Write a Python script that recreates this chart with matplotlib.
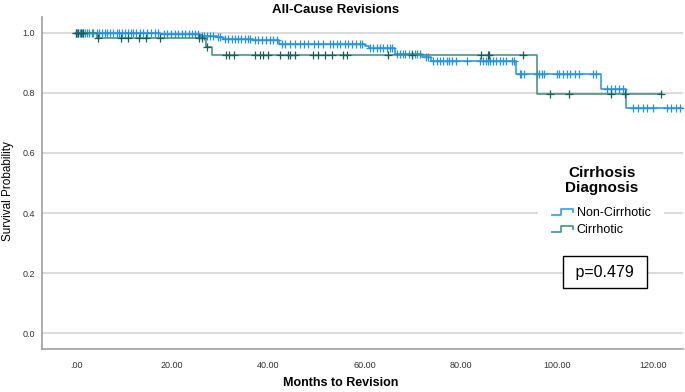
import matplotlib
matplotlib.use("Agg")
import matplotlib.pyplot as plt
from matplotlib.legend_handler import HandlerBase
from matplotlib.lines import Line2D

plt.rcParams['font.family'] = ['Liberation Sans', 'DejaVu Sans']

# ---------------- Data ---------------- #
# Non-Cirrhotic: event times (months) and survival after each step
nc_times = [0, 17.5, 25.8, 29.3, 30.5, 36.8, 42.2, 60.1, 61.0, 66.3, 72.0, 73.9, 91.5, 109.1, 114.3]
nc_surv = [1.0, 0.996, 0.99, 0.987, 0.981, 0.976, 0.963, 0.955, 0.949, 0.93, 0.921, 0.906, 0.862, 0.812, 0.749]
nc_end = 125.9
nc_censored = [
    0.0, 0.14, 0.48, 0.83, 1.18, 1.52, 1.87, 2.22, 2.77, 3.26, 3.6, 4.3, 4.85, 5.34, 6.03,
    6.51, 7.07, 7.76, 8.45, 9.0, 9.5, 10.2, 10.9, 11.4, 11.9, 12.5, 13.3, 14.0, 14.8, 15.5,
    16.4, 17.1, 18.2, 18.9, 19.7, 20.6, 21.3, 22.0, 22.7, 23.4, 24.1, 24.8, 25.4,
    26.1, 26.6, 27.3, 27.9, 28.5, 29.6, 29.9, 31.0, 31.7, 32.4, 33.1, 33.7, 34.4, 35.1,
    35.8, 36.2, 37.2, 37.9, 38.6, 39.6, 40.3, 41.0, 41.7, 42.8, 43.5, 44.5, 45.5, 46.6,
    47.3, 48.3, 49.4, 50.4, 51.4, 52.8, 53.5, 54.2, 54.9, 55.9, 56.6, 57.3, 58.3, 59.0,
    59.4, 61.1, 61.8, 62.5, 63.2, 63.9, 64.6, 65.2, 65.8, 66.7, 67.3, 67.9, 68.5, 69.2,
    69.9, 70.4, 71.0, 71.6, 72.7, 73.2, 74.3, 75.0, 75.7, 76.4, 77.1, 77.6, 78.1, 79.1,
    81.2, 84.0, 84.6, 85.3, 85.7, 86.0, 86.7, 87.4, 88.1, 88.8, 89.5, 90.6, 91.1,
    92.3, 92.6, 93.1, 95.9, 96.3, 96.8, 97.2, 99.9, 100.5, 101.3, 102.0, 102.8, 103.7,
    104.6, 107.4, 108.2, 110.3, 111.2, 112.0, 112.9, 113.8, 115.9, 116.8, 117.8, 118.8,
    119.9, 122.8, 123.8, 124.7, 125.5,
]

# Cirrhotic
c_times = [0, 4.3, 27.0, 28.2, 95.8]
c_surv = [1.0, 0.983, 0.953, 0.926, 0.796]
c_end = 121.8
c_censored = [
    0.1, 0.5, 1.0, 1.5, 4.6, 9.4, 10.8, 13.2, 14.5, 17.5, 25.5, 26.2, 27.3,
    31.2, 31.9, 32.9, 37.2, 38.3, 38.9, 40.0, 42.4, 44.1, 44.5, 45.5, 49.3, 50.4,
    51.8, 53.2, 55.6, 56.3, 64.9, 69.8, 84.3, 85.6, 85.8, 92.9,
    98.5, 102.6, 111.3, 114.2, 121.6,
]

group_labels = ["Non-Cirrhotic", "Cirrhotic"]
x_ticks = [0, 20, 40, 60, 80, 100, 120]
x_ticklabels = [".00", "20.00", "40.00", "60.00", "80.00", "100.00", "120.00"]
y_ticks = [0.0, 0.2, 0.4, 0.6, 0.8, 1.0]

NC_COLOR = "#2393e6"
C_LINE = "#3f8a7f"
C_MARK = "#1d5e54"


def surv_at(times, surv, t):
    s = surv[0]
    for ti, si in zip(times, surv):
        if ti <= t:
            s = si
    return s


class StepHandler(HandlerBase):
    def create_artists(self, legend, orig_handle, xdescent, ydescent,
                       width, height, fontsize, trans):
        x0 = -xdescent
        xs = [x0, x0 + 0.45 * width, x0 + 0.45 * width, x0 + width, x0 + width]
        lo, hi = -ydescent + 0.15 * height, -ydescent + 0.75 * height
        ys = [lo, lo, hi, hi, hi - 0.3 * height]
        ln = Line2D(xs, ys, color=orig_handle.get_color(), lw=1.3, transform=trans)
        return [ln]


fig = plt.figure(figsize=(6.85, 3.92), dpi=100)
ax = fig.add_axes([42 / 685, 43 / 392, 641 / 685, 332 / 392])

# Kaplan-Meier curves
ax.step(nc_times + [nc_end], nc_surv + [nc_surv[-1]], where="post", color=NC_COLOR, lw=1.1, zorder=3)
ax.step(c_times + [c_end], c_surv + [c_surv[-1]], where="post", color=C_LINE, lw=1.1, zorder=4)

# Censor marks
ax.plot(nc_censored, [surv_at(nc_times, nc_surv, t) for t in nc_censored], ls="none",
        marker="+", ms=5.5, mew=0.9, color=NC_COLOR, zorder=3)
ax.plot(c_censored, [surv_at(c_times, c_surv, t) for t in c_censored], ls="none",
        marker="+", ms=5.5, mew=0.9, color=C_MARK, zorder=5)

ax.set_xlim(-7.07, 126.2)
ax.set_ylim(-0.053, 1.053)
ax.set_xticks(x_ticks)
ax.set_xticklabels(x_ticklabels)
ax.set_yticks(y_ticks)
ax.set_yticklabels([f"{v:.1f}" for v in y_ticks])
ax.tick_params(axis="x", length=0, pad=9, labelsize=6.5, labelcolor="#333333")
ax.tick_params(axis="y", length=0, pad=5, labelsize=6.5, labelcolor="#333333")
ax.yaxis.grid(True, color="#d4d4d4", lw=1.2, zorder=0)
ax.set_axisbelow(True)
for s in ["top", "right"]:
    ax.spines[s].set_visible(False)
for s in ["left", "bottom"]:
    ax.spines[s].set_color("#a0a0a0")
    ax.spines[s].set_linewidth(1.2)

fig.text(336 / 685, 1 - 10 / 392, "All-Cause Revisions", ha="center", va="center",
         fontsize=9.5, fontweight="bold")
fig.text(341 / 685, 1 - 383 / 392, "Months to Revision", ha="center", va="center",
         fontsize=9, fontweight="bold")
fig.text(8 / 685, 1 - 191 / 392, "Survival Probability", ha="center", va="center",
         rotation=90, fontsize=8.5)

# Legend (title drawn separately so its spacing can follow the reference)
fig.text(602 / 685, 1 - 180.5 / 392, "Cirrhosis\nDiagnosis", ha="center", va="center",
         fontsize=11, fontweight="bold", linespacing=1.1)
h_nc = Line2D([], [], color="#3ea6ee")
h_c = Line2D([], [], color="#4e9e94")
leg = ax.legend([h_nc, h_c], group_labels, handler_map={Line2D: StepHandler()},
                fontsize=9, frameon=True, framealpha=1, facecolor="white", edgecolor="none",
                loc="center", bbox_to_anchor=(601 / 685, 1 - 221.5 / 392),
                bbox_transform=fig.transFigure, handlelength=1.7, handletextpad=0.3,
                labelspacing=0.4, borderpad=0.5, borderaxespad=0, fancybox=False)
leg.get_frame().set_boxstyle("square", pad=0.6)

# p-value box
ax.text(605 / 685, 1 - 272 / 392, " p=0.479 ", transform=fig.transFigure, ha="center", va="center",
        fontsize=11.5, zorder=6,
        bbox=dict(boxstyle="square,pad=0.55", facecolor="white", edgecolor="black", lw=1))

fig.savefig("out.png", dpi=100)
